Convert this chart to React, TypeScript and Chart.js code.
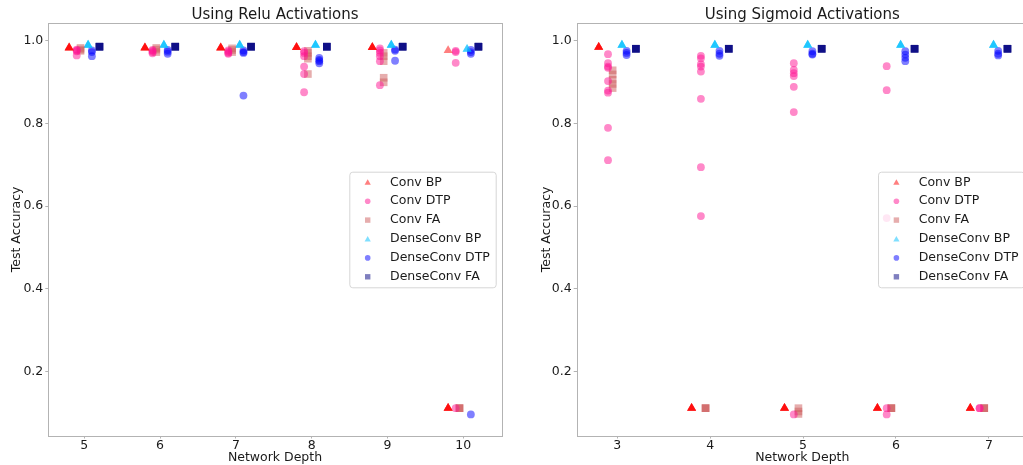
import React, { useEffect, useRef } from 'react';
import { Chart, registerables } from 'chart.js';

Chart.register(...registerables);

// ---------------- data ----------------
const reluDepths = [5, 6, 7, 8, 9, 10];
const reluTickLabels = ['5', '6', '7', '8', '9', '10'];
const sigmoidDepths = [3, 4, 5, 6, 7];
const sigmoidTickLabels = ['3', '4', '5', '6', '7'];
const yTickValues = [0.2, 0.4, 0.6, 0.8, 1.0];
const yTickLabels = ['0.2', '0.4', '0.6', '0.8', '1.0'];
const seriesLabels = ['Conv BP', 'Conv DTP', 'Conv FA', 'DenseConv BP', 'DenseConv DTP', 'DenseConv FA'];

// Relu panel: per depth, the runs of each series
const reluConvBP = [
  [0.982, 0.982, 0.983, 0.982],
  [0.982, 0.982, 0.983, 0.982],
  [0.982, 0.982, 0.983, 0.982],
  [0.983, 0.983, 0.984, 0.983],
  [0.983, 0.983, 0.984, 0.983],
  [0.976, 0.112, 0.112, 0.112, 0.112],
];
const reluConvDTP = [
  [0.978, 0.976, 0.974, 0.964],
  [0.977, 0.975, 0.972, 0.969],
  [0.976, 0.973, 0.970, 0.968],
  [0.974, 0.970, 0.962, 0.937, 0.919, 0.875],
  [0.981, 0.976, 0.970, 0.962, 0.950, 0.892],
  [0.975, 0.972, 0.946, 0.112],
];
const reluConvFA = [
  [0.982, 0.978, 0.975],
  [0.982, 0.978, 0.972],
  [0.981, 0.977, 0.972],
  [0.975, 0.970, 0.962, 0.956, 0.919],
  [0.970, 0.962, 0.950, 0.910, 0.899],
  [0.112, 0.112, 0.112],
];
const reluDenseBP = [
  [0.989, 0.989, 0.989],
  [0.989, 0.989, 0.989],
  [0.989, 0.989, 0.989],
  [0.989, 0.989, 0.989],
  [0.989, 0.989, 0.989],
  [0.979, 0.979],
];
const reluDenseDTP = [
  [0.976, 0.972, 0.962],
  [0.977, 0.973, 0.968],
  [0.976, 0.972, 0.970, 0.867],
  [0.958, 0.953, 0.950, 0.945],
  [0.978, 0.975, 0.951],
  [0.977, 0.972, 0.968, 0.097],
];
const reluDenseFA = [
  [0.985, 0.985, 0.985, 0.985],
  [0.985, 0.985, 0.985, 0.985],
  [0.985, 0.985, 0.985, 0.985],
  [0.985, 0.985, 0.985, 0.985],
  [0.985, 0.985, 0.985, 0.985],
  [0.985, 0.985, 0.985, 0.985],
];

// Sigmoid panel
const sigConvBP = [
  [0.984, 0.984, 0.984, 0.984],
  [0.112, 0.112, 0.112, 0.112],
  [0.112, 0.112, 0.112, 0.112],
  [0.112, 0.112, 0.112, 0.112],
  [0.112, 0.112, 0.112, 0.112],
];
const sigConvDTP = [
  [0.967, 0.945, 0.937, 0.934, 0.902, 0.879, 0.874, 0.789, 0.711],
  [0.963, 0.957, 0.943, 0.937, 0.925, 0.859, 0.694, 0.576],
  [0.945, 0.929, 0.921, 0.914, 0.888, 0.827, 0.097],
  [0.938, 0.880, 0.571, 0.112, 0.097],
  [0.112, 0.112],
];
const sigConvFA = [
  [0.928, 0.918, 0.905, 0.895, 0.885],
  [0.112, 0.112, 0.112],
  [0.112, 0.104, 0.098],
  [0.112, 0.112, 0.112],
  [0.112, 0.112, 0.112],
];
const sigDenseBP = [
  [0.989, 0.989, 0.989],
  [0.989, 0.989, 0.989],
  [0.989, 0.989, 0.989],
  [0.989, 0.989, 0.989],
  [0.989, 0.989, 0.989],
];
const sigDenseDTP = [
  [0.975, 0.970, 0.965],
  [0.975, 0.968, 0.963],
  [0.974, 0.968, 0.966],
  [0.974, 0.966, 0.958, 0.950],
  [0.975, 0.968, 0.964],
];
const sigDenseFA = [
  [0.980, 0.980, 0.980, 0.980],
  [0.980, 0.980, 0.980, 0.980],
  [0.980, 0.980, 0.980, 0.980],
  [0.980, 0.980, 0.980, 0.980],
  [0.980, 0.980, 0.980, 0.980],
];

// ---------------- styles ----------------
const FONT = '"DejaVu Sans", "Liberation Sans", sans-serif';
const TEXT = '#1a1a1a';
const SPINE = '#b3b3b3';
const W = 1023;
const H = 465;
const AREA_TOP = 23.3;
const AREA_BOTTOM = 435.5;
const Y_MIN = 0.046;
const Y_MAX = 1.0415;

type Shape = 'triangle' | 'circle' | 'rect';
const seriesStyles: { color: string; shape: Shape; offset: number }[] = [
  { color: 'rgba(255,0,0,0.5)', shape: 'triangle', offset: -0.2 },
  { color: 'rgba(255,20,147,0.5)', shape: 'circle', offset: -0.1 },
  { color: 'rgba(205,92,92,0.5)', shape: 'rect', offset: -0.05 },
  { color: 'rgba(0,191,255,0.5)', shape: 'triangle', offset: 0.05 },
  { color: 'rgba(0,0,255,0.5)', shape: 'circle', offset: 0.1 },
  { color: 'rgba(0,0,128,0.5)', shape: 'rect', offset: 0.2 },
];
const radiusFor: Record<Shape, number> = { triangle: 5.2, circle: 3.9, rect: 5.4 };
const legendSize: Record<Shape, number> = { triangle: 3.6, circle: 2.8, rect: 3.6 };

function drawMarker(ctx: CanvasRenderingContext2D, shape: Shape, x: number, y: number, r: number) {
  ctx.beginPath();
  if (shape === 'circle') {
    ctx.arc(x, y, r, 0, Math.PI * 2);
  } else if (shape === 'rect') {
    ctx.rect(x - r * 0.75, y - r * 0.75, r * 1.5, r * 1.5);
  } else {
    ctx.moveTo(x, y - r);
    ctx.lineTo(x + r * 0.866, y + r * 0.5);
    ctx.lineTo(x - r * 0.866, y + r * 0.5);
    ctx.closePath();
  }
  ctx.fill();
}

type Panel = {
  title: string;
  depths: number[];
  tickLabels: string[];
  series: number[][][];
  xMin: number;
  xMax: number;
  canvasLeft: number;
  canvasWidth: number;
  areaLeft: number;
  areaRight: number;
  yTitleCenter: number;
  legendLeft: number;
};

const panels: Panel[] = [
  {
    title: 'Using Relu Activations',
    depths: reluDepths,
    tickLabels: reluTickLabels,
    series: [reluConvBP, reluConvDTP, reluConvFA, reluDenseBP, reluDenseDTP, reluDenseFA],
    xMin: 4.525,
    xMax: 10.507,
    canvasLeft: 0,
    canvasWidth: 512,
    areaLeft: 48.3,
    areaRight: 501.7,
    yTitleCenter: 16.5,
    legendLeft: 349.3,
  },
  {
    title: 'Using Sigmoid Activations',
    depths: sigmoidDepths,
    tickLabels: sigmoidTickLabels,
    series: [sigConvBP, sigConvDTP, sigConvFA, sigDenseBP, sigDenseDTP, sigDenseFA],
    xMin: 2.563,
    xMax: 7.42,
    canvasLeft: 512,
    canvasWidth: 524,
    areaLeft: 64.7,
    areaRight: 515.9,
    yTitleCenter: 34.5,
    legendLeft: 366,
  },
];

function makeConfig(p: Panel): any {
  const font = { family: FONT, size: 12.5 };
  const decor = {
    id: 'decor',
    afterDatasetsDraw(chart: any) {
      const { ctx, chartArea } = chart;
      const { left, right, top, bottom } = chartArea;
      ctx.save();
      // frame
      ctx.strokeStyle = SPINE;
      ctx.lineWidth = 1;
      ctx.strokeRect(Math.round(left) + 0.5, Math.round(top) + 0.5, Math.round(right) - Math.round(left), Math.round(bottom) - Math.round(top));
      // title
      ctx.fillStyle = TEXT;
      ctx.font = `15px ${FONT}`;
      ctx.textAlign = 'center';
      ctx.textBaseline = 'alphabetic';
      ctx.fillText(p.title, (left + right) / 2, 19);
      // legend
      const lx = p.legendLeft;
      const ly = 171.7;
      const lw = 146.4;
      const lh = 115.6;
      ctx.beginPath();
      ctx.roundRect(lx + 0.5, ly + 0.5, lw, lh, 3);
      ctx.fillStyle = 'rgba(255,255,255,0.8)';
      ctx.fill();
      ctx.strokeStyle = '#d6d6d6';
      ctx.stroke();
      ctx.font = `12.5px ${FONT}`;
      ctx.textAlign = 'left';
      ctx.textBaseline = 'middle';
      seriesLabels.forEach((label, i) => {
        const st = seriesStyles[i];
        const ry = 182.3 + i * 18.9;
        ctx.fillStyle = st.color;
        drawMarker(ctx, st.shape, lx + 18.4, ry + (st.shape === 'triangle' ? 0.6 : 0), legendSize[st.shape]);
        ctx.fillStyle = TEXT;
        ctx.fillText(label, lx + 40.7, ry);
      });
      ctx.restore();
    },
  };

  return {
    type: 'scatter',
    data: {
      datasets: p.series.map((runs, si) => {
        const st = seriesStyles[si];
        const r = radiusFor[st.shape];
        return {
          label: seriesLabels[si],
          data: p.depths.flatMap((d, di) => (runs[di] || []).map((v) => ({ x: d + st.offset, y: v }))),
          pointStyle: st.shape,
          pointRadius: r,
          pointHoverRadius: r,
          backgroundColor: st.color,
          borderColor: st.color,
          borderWidth: 0,
          showLine: false,
          clip: false,
        };
      }),
    },
    options: {
      responsive: false,
      maintainAspectRatio: false,
      animation: false,
      devicePixelRatio: 1,
      events: [],
      layout: { padding: { top: AREA_TOP, right: p.canvasWidth - p.areaRight, bottom: 0, left: 0 } },
      plugins: {
        legend: { display: false },
        tooltip: { enabled: false },
        title: { display: false },
      },
      scales: {
        x: {
          type: 'linear',
          min: p.xMin,
          max: p.xMax,
          afterBuildTicks: (s: any) => {
            s.ticks = p.depths.map((v) => ({ value: v }));
          },
          afterFit: (s: any) => {
            s.height = H - AREA_BOTTOM;
          },
          ticks: {
            callback: (_v: any, i: number) => p.tickLabels[i],
            font,
            color: TEXT,
            padding: 0,
            maxRotation: 0,
            autoSkip: false,
          },
          grid: { display: true, drawOnChartArea: false, drawTicks: true, tickLength: 3, color: SPINE },
          border: { display: false },
          title: { display: true, text: 'Network Depth', font, color: TEXT, padding: { top: 0, bottom: 0 } },
        },
        y: {
          type: 'linear',
          min: Y_MIN,
          max: Y_MAX,
          afterBuildTicks: (s: any) => {
            s.ticks = yTickValues.map((v) => ({ value: v }));
          },
          afterFit: (s: any) => {
            s.width = p.areaLeft;
          },
          ticks: {
            callback: (_v: any, i: number) => yTickLabels[i],
            font,
            color: TEXT,
            padding: 2,
            autoSkip: false,
          },
          grid: { display: true, drawOnChartArea: false, drawTicks: true, tickLength: 3, color: SPINE },
          border: { display: false },
          title: { display: true, text: 'Test Accuracy', font, color: TEXT, padding: { top: p.yTitleCenter - 7.5, bottom: 0 } },
        },
      },
    },
    plugins: [decor],
  };
}

function PanelChart({ panel }: { panel: Panel }) {
  const ref = useRef<HTMLCanvasElement | null>(null);
  useEffect(() => {
    if (!ref.current) return;
    const chart = new Chart(ref.current, makeConfig(panel));
    return () => chart.destroy();
  }, [panel]);
  return (
    <canvas
      ref={ref}
      width={panel.canvasWidth}
      height={H}
      style={{ position: 'absolute', left: panel.canvasLeft, top: 0, width: panel.canvasWidth, height: H }}
    />
  );
}

export default function App() {
  return (
    <div
      style={{
        position: 'fixed',
        left: 0,
        top: 0,
        width: W,
        height: H,
        overflow: 'hidden',
        background: '#ffffff',
      }}
    >
      {panels.map((p) => (
        <PanelChart key={p.title} panel={p} />
      ))}
    </div>
  );
}
